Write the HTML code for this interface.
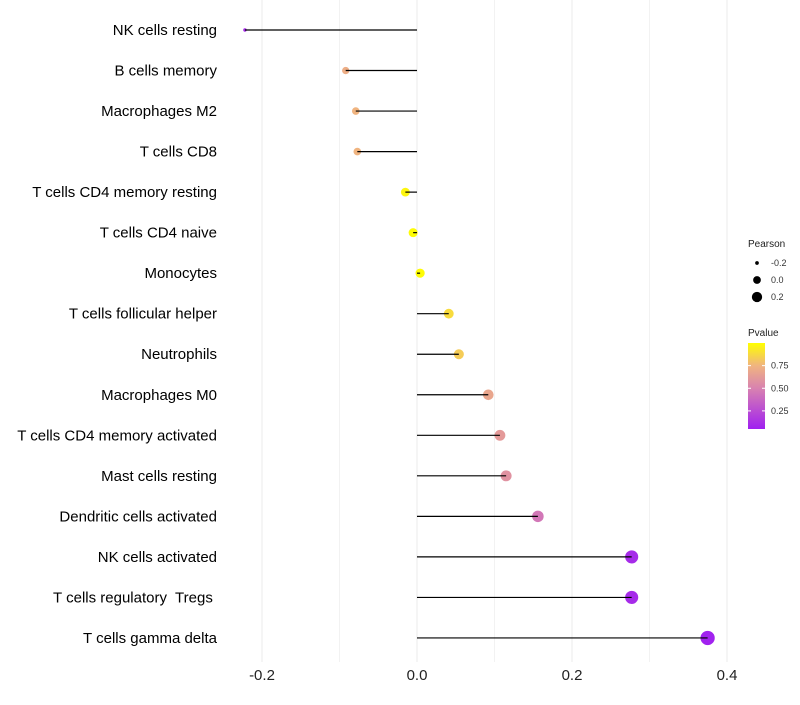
<!DOCTYPE html>
<html><head><meta charset="utf-8"><style>
body{margin:0;background:#fff;}
svg text{font-family:"Liberation Sans",sans-serif;white-space:pre;}
</style></head><body>
<svg id="chart" width="800" height="700" xmlns="http://www.w3.org/2000/svg"></svg>
<script>
const categories=["NK cells resting","B cells memory","Macrophages M2","T cells CD8","T cells CD4 memory resting","T cells CD4 naive","Monocytes","T cells follicular helper","Neutrophils","Macrophages M0","T cells CD4 memory activated","Mast cells resting","Dendritic cells activated","NK cells activated","T cells regulatory  Tregs ","T cells gamma delta"];
const pearson=[-0.222,-0.092,-0.079,-0.077,-0.015,-0.005,0.004,0.041,0.054,0.092,0.107,0.115,0.156,0.277,0.277,0.375];
const pvalue=[0.1,0.72,0.75,0.75,0.97,0.99,0.99,0.88,0.83,0.68,0.62,0.58,0.45,0.1,0.1,0.06];
const xTicks=[-0.2,0,0.2,0.4];
const xTickLabels=["-0.2","0.0","0.2","0.4"];
const xMinor=[-0.1,0.1,0.3];
const sizeLegend=[-0.2,0,0.2];
const colorTicks=[0.25,0.5,0.75];

const NS="http://www.w3.org/2000/svg";
const svg=document.getElementById('chart');
function el(t,a,p){const e=document.createElementNS(NS,t);for(const k in a)e.setAttribute(k,a[k]);(p||svg).appendChild(e);return e;}
const x=v=>417+v*775;
const y=i=>30+i*40.53;
const rad=v=>Math.sqrt(Math.max(1.5,3+(v+0.222)*80));
function lerp(a,b,t){return a.map((c,i)=>Math.round(c+(b[i]-c)*t));}
const stops=[[0.05,[160,32,240]],[0.5,[216,130,176]],[0.75,[240,180,128]],[1.0,[255,255,0]]];
function col(p){p=Math.max(0.05,Math.min(1,p));for(let i=0;i<stops.length-1;i++){const[a,ca]=stops[i],[b,cb]=stops[i+1];if(p<=b){const c=lerp(ca,cb,(p-a)/(b-a));return`rgb(${c})`;}}return'rgb(255,255,0)';}

xMinor.forEach(v=>{const l=el('line',{x1:x(v),x2:x(v),y1:0,y2:662,stroke:'#f2f2f2','stroke-width':1});
});
xTicks.forEach((v,i)=>{const l=el('line',{x1:x(v),x2:x(v),y1:0,y2:662,stroke:'#ebebeb','stroke-width':1});

const t=el('text',{x:x(v),y:680,'text-anchor':'middle','font-size':15,fill:'#222'});t.textContent=xTickLabels[i];
});

categories.forEach((c,i)=>{
const t=el('text',{x:217,y:y(i)+5,'text-anchor':'end','font-size':15,fill:'#000'});t.textContent=c;

const d=el('circle',{cx:x(pearson[i]),cy:y(i),r:rad(pearson[i]),fill:col(pvalue[i])});

const l=el('line',{x1:x(0),x2:x(pearson[i]),y1:y(i),y2:y(i),stroke:'#000','stroke-width':1.2});

});

const lt=el('text',{x:748,y:247,'font-size':10,fill:'#222'});lt.textContent='Pearson';

sizeLegend.forEach((v,i)=>{const cy=263+i*17;
const c=el('circle',{cx:757,cy:cy,r:rad(v)*0.85,fill:'#000'});
const t=el('text',{x:771,y:cy+3,'font-size':9,fill:'#333'});t.textContent=v===0?'0.0':String(v);
});

const ct=el('text',{x:748,y:336,'font-size':10,fill:'#222'});ct.textContent='Pvalue';

const defs=el('defs',{});const g=el('linearGradient',{id:'pg',x1:0,y1:1,x2:0,y2:0},defs);
stops.forEach(s=>el('stop',{offset:(s[0]-0.05)/0.95,'stop-color':`rgb(${s[1]})`},g));
const cb=el('rect',{x:748,y:343,width:17,height:86,fill:'url(#pg)'});

const cy=v=>429-(v-0.05)/0.95*86;
colorTicks.forEach(v=>{el('line',{x1:748,x2:751,y1:cy(v),y2:cy(v),stroke:'#fff'});el('line',{x1:762,x2:765,y1:cy(v),y2:cy(v),stroke:'#fff'});
const t=el('text',{x:771,y:cy(v)+3,'font-size':9,fill:'#333'});t.textContent=v.toFixed(2);
});
</script>
</body></html>
